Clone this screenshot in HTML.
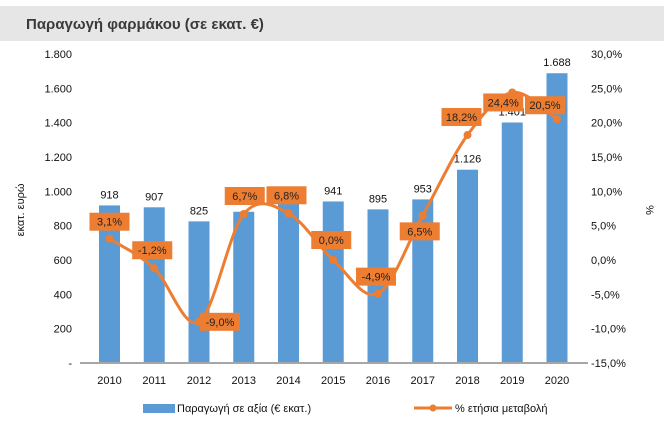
<!DOCTYPE html>
<html><head><meta charset="utf-8"><style>
body{margin:0;background:#fff;width:664px;height:424px;overflow:hidden;font-family:"Liberation Sans",sans-serif}
svg text{font-family:"Liberation Sans",sans-serif}
</style></head><body>
<svg width="664" height="424">
<rect x="0" y="6" width="664" height="35" fill="#e6e6e6"/>
<text x="26" y="29" font-size="15" font-weight="bold" fill="#3a3a3a">Παραγωγή φαρμάκου (σε εκατ. €)</text>
<g id="g"></g>
</svg>
<script>
const years=["2010","2011","2012","2013","2014","2015","2016","2017","2018","2019","2020"];
const values=[918,907,825,881,941,941,895,953,1126,1401,1688];
const valueLabels=["918","907","825","881","941","941","895","953","1.126","1.401","1.688"];
const pct=[3.1,-1.2,-9.0,6.7,6.8,0.0,-4.9,6.5,18.2,24.4,20.5];
const pctLabels=["3,1%","-1,2%","-9,0%","6,7%","6,8%","0,0%","-4,9%","6,5%","18,2%","24,4%","20,5%"];
const leftTicks=[0,200,400,600,800,1000,1200,1400,1600,1800];
const leftTickLabels=["-","200","400","600","800","1.000","1.200","1.400","1.600","1.800"];
const rightTicks=[-15,-10,-5,0,5,10,15,20,25,30];
const rightTickLabels=["-15,0%","-10,0%","-5,0%","0,0%","5,0%","10,0%","15,0%","20,0%","25,0%","30,0%"];
const lblOff=[[0,-17],[-2,-18],[21,0],[1,-18],[-2,-18],[-2,-20],[-2,-17],[-3,16],[-6,-18],[-9,10],[-12,-14]];
const NS="http://www.w3.org/2000/svg",g=document.getElementById('g');
const x=i=>109.5+i*44.75, yL=v=>363-v*(309/1800), yR=v=>363-(v+15)*(309/45);
function el(t,a,txt){const e=document.createElementNS(NS,t);for(const k in a)e.setAttribute(k,a[k]);if(txt!=null)e.textContent=txt;g.appendChild(e);return e;}
leftTicks.forEach((v,i)=>{const e=el('text',{x:72,y:yL(v)+4,'text-anchor':'end','font-size':11,fill:'#111'},leftTickLabels[i]);

});
rightTicks.forEach((v,i)=>{const e=el('text',{x:591,y:yR(v)+4,'font-size':11,fill:'#111'},rightTickLabels[i]);

});
let t=el('text',{x:0,y:0,'font-size':11,fill:'#111','text-anchor':'middle',transform:'translate(24,210) rotate(-90)'},'εκατ. ευρώ');


t=el('text',{x:0,y:0,'font-size':11,fill:'#111','text-anchor':'middle',transform:'translate(646,210) rotate(90)'},'%');


values.forEach((v,i)=>{const b=el('rect',{x:x(i)-10.5,y:yL(v),width:21,height:363-yL(v),fill:'#5b9bd5'});


const l=el('text',{x:x(i),y:yL(v)-7,'text-anchor':'middle','font-size':11,fill:'#111'},valueLabels[i]);


const yl=el('text',{x:x(i),y:384,'text-anchor':'middle','font-size':11,fill:'#111'},years[i]);

});
const ax=el('line',{x1:80,x2:588,y1:363,y2:363,stroke:'#a6a6a6','stroke-width':2});


const P=pct.map((v,i)=>[x(i),yR(v)]);
let d='M'+P[0].join(',');
for(let i=0;i<P.length-1;i++){const p0=P[i-1]||P[i],p1=P[i],p2=P[i+1],p3=P[i+2]||P[i+1];
d+=` C${p1[0]+(p2[0]-p0[0])/6},${p1[1]+(p2[1]-p0[1])/6} ${p2[0]-(p3[0]-p1[0])/6},${p2[1]-(p3[1]-p1[1])/6} ${p2[0]},${p2[1]}`;}
const ln=el('path',{d:d,fill:'none',stroke:'#ed7d31','stroke-width':3});


P.forEach((p,i)=>{const c=el('circle',{cx:p[0],cy:p[1],r:4,fill:'#ed7d31'});

});
P.forEach((p,i)=>{const cx=p[0]+lblOff[i][0],cy=p[1]+lblOff[i][1];
const r=el('rect',{x:cx-20,y:cy-9,width:40,height:18,fill:'#ed7d31'});


const tx=el('text',{x:cx,y:cy+4,'text-anchor':'middle','font-size':11,fill:'#222'},pctLabels[i]);

});
let lg=el('rect',{x:143,y:404,width:32,height:9,fill:'#5b9bd5'});


lg=el('text',{x:177,y:412,'font-size':11,fill:'#111'},'Παραγωγή σε αξία (€ εκατ.)');


lg=el('line',{x1:414,x2:452,y1:408,y2:408,stroke:'#ed7d31','stroke-width':3});


lg=el('circle',{cx:433,cy:408,r:3.5,fill:'#ed7d31'});


lg=el('text',{x:455,y:412,'font-size':11,fill:'#111'},'% ετήσια μεταβολή');


</script>
</body></html>
